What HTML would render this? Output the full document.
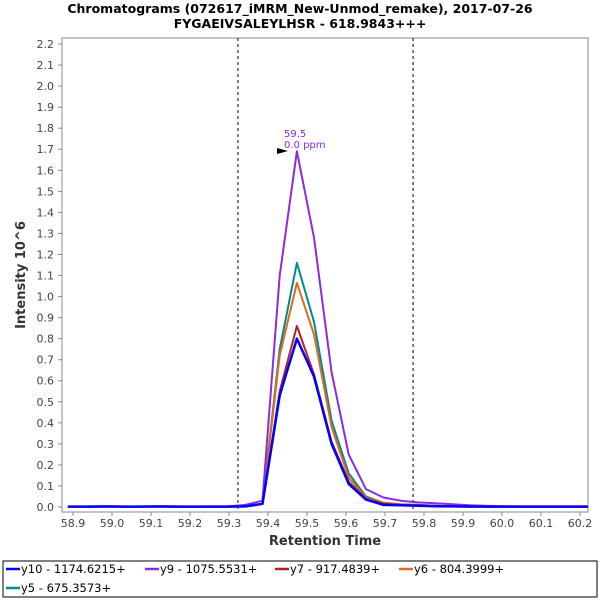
<!DOCTYPE html>
<html><head><meta charset="utf-8"><style>
body{margin:0;background:#fff;font-family:"Liberation Sans","DejaVu Sans",sans-serif}
</style></head><body>
<svg width="600" height="600" xmlns="http://www.w3.org/2000/svg" font-family="DejaVu Sans, Liberation Sans, sans-serif">
<text x="300" y="13" text-anchor="middle" font-size="12.5" font-weight="bold">Chromatograms (072617_iMRM_New-Unmod_remake), 2017-07-26</text>
<text x="300" y="28" text-anchor="middle" font-size="12.5" font-weight="bold">FYGAEIVSALEYLHSR - 618.9843+++</text>
<rect x="62" y="38" width="526" height="474" fill="#fff" stroke="#888"/>
<g id="axes"></g>
<g id="series"></g>
<text transform="translate(25,275) rotate(-90)" text-anchor="middle" font-size="13" font-weight="bold" fill="#333">Intensity 10^6</text>
<text x="325" y="545" text-anchor="middle" font-size="13" font-weight="bold" fill="#333">Retention Time</text>
<polygon points="277,148 288,151 277,154" fill="#000"/>
<text x="284" y="137" font-size="10" fill="#8a2be2">59.5</text>
<text x="284" y="148" font-size="10" fill="#8a2be2">0.0 ppm</text>
<g>
<rect x="3" y="561" width="594" height="36" fill="#fff" stroke="#000"/>
<g id="legend"></g>
</g>
</svg>
<script>
const times=[58.887,58.898,58.943,58.987,59.031,59.076,59.120,59.164,59.209,59.253,59.297,59.342,59.386,59.430,59.474,59.518,59.563,59.607,59.651,59.696,59.740,59.784,59.829,59.873,59.917,59.962,60.006,60.050,60.095,60.139,60.183,60.220];
const y10=[0.002,0.002,0.002,0.003,0.002,0.002,0.003,0.002,0.002,0.002,0.002,0.003,0.015,0.53,0.80,0.62,0.30,0.11,0.035,0.01,0.008,0.006,0.004,0.003,0.002,0.002,0.002,0.002,0.002,0.002,0.002,0.002];
const y9=[0.002,0.002,0.003,0.003,0.002,0.003,0.003,0.003,0.002,0.003,0.003,0.01,0.03,1.10,1.69,1.28,0.64,0.25,0.085,0.045,0.03,0.022,0.018,0.013,0.008,0.005,0.004,0.003,0.003,0.003,0.003,0.003];
const y7=[0.002,0.002,0.002,0.002,0.002,0.002,0.002,0.002,0.002,0.002,0.002,0.003,0.015,0.55,0.86,0.63,0.31,0.12,0.04,0.015,0.01,0.008,0.005,0.004,0.003,0.002,0.002,0.002,0.002,0.002,0.002,0.002];
const y6=[0.002,0.002,0.002,0.002,0.002,0.002,0.002,0.002,0.002,0.002,0.002,0.003,0.015,0.72,1.065,0.82,0.38,0.14,0.045,0.02,0.012,0.009,0.006,0.004,0.003,0.002,0.002,0.002,0.002,0.002,0.002,0.002];
const y5=[0.002,0.002,0.002,0.002,0.002,0.002,0.002,0.002,0.002,0.002,0.002,0.003,0.015,0.75,1.16,0.88,0.41,0.16,0.05,0.02,0.013,0.01,0.006,0.004,0.003,0.002,0.002,0.002,0.002,0.002,0.002,0.002];
const seriesNames=["y10 - 1174.6215+","y9 - 1075.5531+","y7 - 917.4839+","y6 - 804.3999+","y5 - 675.3573+"];
const seriesColors=["#0000ff","#8a2be2","#b22222","#e2691e","#008b8b"];
const xTicks=[58.9,59.0,59.1,59.2,59.3,59.4,59.5,59.6,59.7,59.8,59.9,60.0,60.1,60.2];
const yTicks=[0,0.1,0.2,0.3,0.4,0.5,0.6,0.7,0.8,0.9,1.0,1.1,1.2,1.3,1.4,1.5,1.6,1.7,1.8,1.9,2.0,2.1,2.2];
const boundaries=[59.323,59.772];
const NS="http://www.w3.org/2000/svg";
const X=v=>73+(v-58.9)*390;
const Y=v=>507-v*210.45;
function mk(tag,attrs,parent){const e=document.createElementNS(NS,tag);for(const k in attrs)e.setAttribute(k,attrs[k]);parent.appendChild(e);return e;}
const ax=document.getElementById('axes');
xTicks.forEach(t=>{
 const l=mk('line',{x1:X(t),x2:X(t),y1:512,y2:516,stroke:'#888'},ax);
 
 
 const tx=mk('text',{x:X(t),y:527,'text-anchor':'middle','font-size':'11',fill:'#444'},ax);
 tx.textContent=t.toFixed(1);
 
 
});
yTicks.forEach(t=>{
 const l=mk('line',{x1:58,x2:62,y1:Y(t),y2:Y(t),stroke:'#888'},ax);
 
 
 const tx=mk('text',{x:54,y:Y(t)+4,'text-anchor':'end','font-size':'11',fill:'#444'},ax);
 tx.textContent=t.toFixed(1);
 
 
});
boundaries.forEach(b=>{
 const l=mk('line',{x1:X(b),x2:X(b),y1:38,y2:512,stroke:'#000','stroke-dasharray':'3,3'},ax);
 
 
});
const sg=document.getElementById('series');
const data=[y10,y9,y7,y6,y5];
for(let s=data.length-1;s>=0;s--){
 const pts=times.map((t,i)=>X(t).toFixed(1)+','+Y(data[s][i]).toFixed(1)).join(' ');
 const p=mk('polyline',{points:pts,fill:'none',stroke:seriesColors[s],'stroke-width':s==0?2.5:2,'stroke-linejoin':'round'},sg);
 
 
}
const lg=document.getElementById('legend');
seriesNames.forEach((n,i)=>{
 const [x,y]=[[6,573],[145,573],[275,573],[399,573],[6,592]][i];
 const l=mk('line',{x1:x,x2:x+14,y1:y-4,y2:y-4,stroke:seriesColors[i],'stroke-width':2.5},lg);
 
 
 const t=mk('text',{x:x+15,y:y,'font-size':'11.5',fill:'#000'},lg);
 t.textContent=n;
 
 
});
</script>
</body></html>
